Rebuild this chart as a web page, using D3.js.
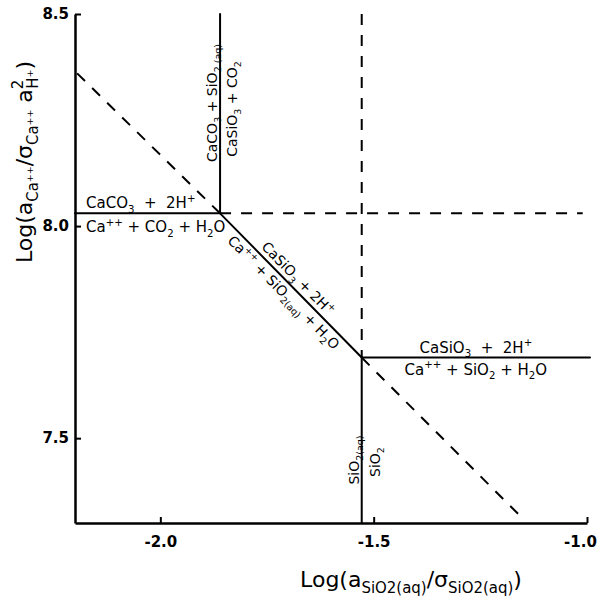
<!DOCTYPE html>
<html>
<head>
<meta charset="utf-8">
<script src="https://cdn.jsdelivr.net/npm/d3@7"></script>
<style>
  body { margin: 0; background: #fff; }
  svg { display: block; font-family: 'DejaVu Sans', sans-serif; }
</style>
</head>
<body>
<div id="chart"></div>
<script>
// axis ranges and ticks (log units)
const xDomain = [-2.2, -1.0];
const yDomain = [7.3, 8.5];
const xTicks = [-2.0, -1.5, -1.0];
const yTicks = [7.5, 8.0, 8.5];

// triple points
const junctionA = [-1.86, 8.03];
const junctionB = [-1.528, 7.69];

// stable phase boundaries
const solidBoundaries = [
  [[-2.2, 8.03], junctionA],
  [junctionA, [-1.86, 8.5]],
  [junctionA, junctionB],
  [junctionB, [-0.993, 7.69]],
  [junctionB, [-1.528, 7.3]]
];
// metastable extensions
const dashedBoundaries = [
  [[-2.195, 8.36], junctionA],
  [junctionA, [-1.01, 8.03]],
  [[-1.528, 8.5], junctionB],
  [junctionB, [-1.15, 7.31]]
];

// reaction labels ( _{} subscript, ^{} superscript )
const calciteLabels = ['CaCO_{3}  +  2H^{+}', 'Ca^{++} + CO_{2} + H_{2}O'];
const carbonateSilicaLabels = ['CaCO_{3} + SiO_{2 (aq)}', 'CaSiO_{3} + CO_{2}'];
const wollastoniteAqLabels = ['CaSiO_{3} + 2H^{+}', 'Ca^{++} + SiO_{2(aq)} + H_{2}O'];
const wollastoniteLabels = ['CaSiO_{3}  +  2H^{+}', 'Ca^{++} + SiO_{2} + H_{2}O'];
const quartzLabels = ['SiO_{2(aq)}', 'SiO_{2}'];

const width = 600, height = 600;
const svg = d3.select('#chart').append('svg')
  .attr('width', width).attr('height', height);

const x = d3.scaleLinear().domain(xDomain).range([75, 587]);
const y = d3.scaleLinear().domain(yDomain).range([523, 14]);

// write a label with simple sub/superscript markup into a text element
function rich(t, str, fs) {
  const parts = [];
  let last = 0;
  str.replace(/([_^])\{([^}]*)\}/g, (m, k, s, i) => {
    if (i > last) parts.push([str.slice(last, i), 0]);
    parts.push([s, k === '_' ? 1 : -1]);
    last = i + m.length;
    return m;
  });
  if (last < str.length) parts.push([str.slice(last), 0]);
  let off = 0;
  parts.forEach(([s, k]) => {
    const target = k === 0 ? 0 : (k === 1 ? fs * 0.28 : -fs * 0.42);
    t.append('tspan')
      .attr('dy', target - off)
      .attr('font-size', k ? fs * 0.68 : fs)
      .style('white-space', 'pre')
      .text(s);
    off = target;
  });
  return t;
}

// axes
const yAxis = d3.axisLeft(y).tickValues(yTicks).tickSize(-6).tickSizeOuter(0)
  .tickPadding(6).tickFormat(d => d.toFixed(1));
const xAxis = d3.axisBottom(x).tickValues(xTicks).tickSize(-6).tickSizeOuter(0)
  .tickPadding(13).tickFormat(d => d.toFixed(1));

const gy = svg.append('g').attr('transform', `translate(${x(xDomain[0])},0)`).call(yAxis);
const gx = svg.append('g').attr('transform', `translate(0,${y(yDomain[0])})`).call(xAxis);
[gx, gy].forEach(g => {
  g.select('.domain').attr('stroke', '#000').attr('stroke-width', 2.5);
  g.selectAll('.tick line').attr('stroke', '#000').attr('stroke-width', 2);
  g.selectAll('.tick text')
    .attr('font-family', 'DejaVu Sans, sans-serif')
    .attr('font-size', 15).attr('font-weight', 'bold').attr('fill', '#000');
});
// last x label sits a little inside the frame
gx.selectAll('.tick text').filter(d => d === xDomain[1]).attr('dx', -7);

// boundaries
const line = d3.line().x(d => x(d[0])).y(d => y(d[1]));
svg.append('g').selectAll('path').data(solidBoundaries).join('path')
  .attr('d', line).attr('fill', 'none').attr('stroke', '#000')
  .attr('stroke-width', 2).attr('stroke-linecap', 'round');
svg.append('g').selectAll('path').data(dashedBoundaries).join('path')
  .attr('d', line).attr('fill', 'none').attr('stroke', '#000')
  .attr('stroke-width', 2).attr('stroke-dasharray', '11,10');

const ax = x(junctionA[0]), ay = y(junctionA[1]);
const bx = x(junctionB[0]), by = y(junctionB[1]);
const labels = svg.append('g').attr('fill', '#000');

// CaCO3 / Ca++ boundary
rich(labels.append('text').attr('x', x(xDomain[0]) + 11).attr('y', ay - 5), calciteLabels[0], 15);
rich(labels.append('text').attr('x', x(xDomain[0]) + 11).attr('y', ay + 19), calciteLabels[1], 15);

// CaCO3 / CaSiO3 boundary
rich(labels.append('text').attr('text-anchor', 'middle')
  .attr('transform', `translate(${ax - 3},103) rotate(-90)`), carbonateSilicaLabels[0], 14);
rich(labels.append('text').attr('text-anchor', 'middle')
  .attr('transform', `translate(${ax + 17},109) rotate(-90)`), carbonateSilicaLabels[1], 14);

// CaSiO3 / Ca++ + SiO2(aq) boundary
const ang = Math.atan2(by - ay, bx - ax) * 180 / Math.PI;
const mx = (ax + bx) / 2, my = (ay + by) / 2;
rich(labels.append('text').attr('text-anchor', 'middle')
  .attr('transform', `translate(${mx},${my}) rotate(${ang}) translate(0,-5)`), wollastoniteAqLabels[0], 14);
rich(labels.append('text').attr('text-anchor', 'middle')
  .attr('transform', `translate(${mx},${my}) rotate(${ang}) translate(0,15)`), wollastoniteAqLabels[1], 14);

// CaSiO3 / Ca++ + SiO2 boundary
const rx = (bx + x(-0.993)) / 2;
rich(labels.append('text').attr('text-anchor', 'middle').attr('x', rx).attr('y', by - 5), wollastoniteLabels[0], 15);
rich(labels.append('text').attr('text-anchor', 'middle').attr('x', rx).attr('y', by + 17), wollastoniteLabels[1], 15);

// quartz saturation
rich(labels.append('text').attr('text-anchor', 'middle')
  .attr('transform', `translate(${bx - 3},460) rotate(-90)`), quartzLabels[0], 14);
rich(labels.append('text').attr('text-anchor', 'middle')
  .attr('transform', `translate(${bx + 18},462) rotate(-90)`), quartzLabels[1], 14);

// axis titles
const yTitle = labels.append('text').attr('text-anchor', 'middle')
  .attr('transform', 'translate(32,162) rotate(-90)').attr('font-size', 22);
rich(yTitle, 'Log(a_{Ca⁺⁺}/σ_{Ca⁺⁺} a^{2}', 22);
yTitle.append('tspan').attr('dx', -9).attr('dy', 22 * 0.7).attr('font-size', 22 * 0.68).text('H⁺');
yTitle.append('tspan').attr('dy', -22 * 0.28).attr('font-size', 22).text(')');

const xTitle = labels.append('text').attr('text-anchor', 'middle')
  .attr('x', 411).attr('y', 587).attr('font-size', 22);
rich(xTitle, 'Log(a_{SiO2(aq)}/σ_{SiO2(aq)})', 22);
</script>
</body>
</html>
